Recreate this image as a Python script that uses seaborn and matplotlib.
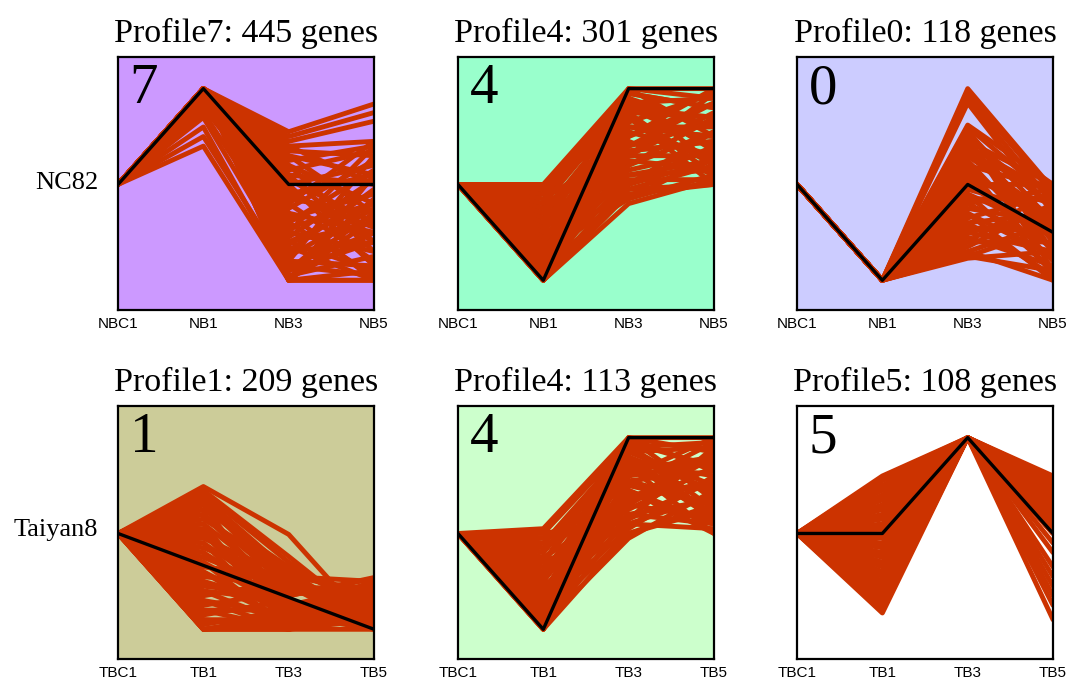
import numpy as np
import pandas as pd
import seaborn as sns
import matplotlib
matplotlib.use("Agg")
import matplotlib.pyplot as plt

sns.set_style("white")
plt.rcParams["text.color"] = "black"
plt.rcParams["xtick.color"] = "black"

row_names = ["NC82", "Taiyan8"]
nb_times = ["NBC1", "NB1", "NB3", "NB5"]
tb_times = ["TBC1", "TB1", "TB3", "TB5"]

profile_ids = [7, 4, 0, 1, 4, 5]
gene_counts = [445, 301, 118, 209, 113, 108]
bg_colors = ["#CC99FF", "#99FFCC", "#CCCCFF", "#CCCC99", "#CCFFCC", "#FFFFFF"]

# model profiles (black line)
model_7 = [0, 1, 0, 0]
model_4a = [0, -1, 1, 1]
model_0 = [0, -1, 0, -0.5]
model_1 = [0, -1 / 3, -2 / 3, -1]
model_4b = [0, -1, 1, 1]
model_5 = [0, 0, 1, 0]

# gene profiles, values at the three later time points (first point is 0)
genes_7 = [
    (1.0, 0.55, 0.84), (1.0, 0.5, 0.75), (1.0, 0.45, 0.66), (0.95, 0.4, 0.45),
    (1.0, 0.35, 0.3), (1.0, 0.3, 0.1), (1.0, 0.25, 0.4), (0.9, 0.2, -0.2),
    (1.0, 0.15, 0.35), (1.0, 0.1, 0.0), (0.85, 0.05, -0.4), (1.0, 0.0, 0.2),
    (1.0, -0.05, -0.6), (1.0, -0.1, 0.1), (0.95, -0.15, -0.3), (1.0, -0.2, -0.8),
    (1.0, -0.25, 0.25), (0.8, -0.3, -0.5), (1.0, -0.35, -0.1), (1.0, -0.4, -0.95),
    (0.9, -0.45, -0.2), (1.0, -0.5, -0.7), (1.0, -0.55, 0.05), (0.75, -0.6, -0.4),
    (1.0, -0.65, -1.0), (1.0, -0.7, -0.6), (1.0, -0.75, -0.25), (0.7, -0.8, -0.85),
    (1.0, -0.85, -0.5), (1.0, -0.9, -0.15), (1.0, -0.95, -0.75), (0.6, -1.0, -1.0),
    (0.4, -1.0, -0.9), (1.0, -1.0, -1.0), (1.0, -1.0, -0.35), (0.5, -0.9, -0.6),
    (1.0, -0.98, -0.5), (1.0, -0.6, -0.9), (1.0, -0.3, -1.0), (1.0, 0.0, -0.85),
    (1.0, 0.2, -0.6), (1.0, 0.4, 0.0), (1.0, -0.8, 0.3), (1.0, -0.5, 0.4),
    (1.0, -0.1, -0.45), (1.0, -0.9, -0.3), (1.0, -0.7, -0.05), (1.0, -0.4, 0.15),
    (1.0, 0.1, -0.7), (1.0, 0.3, -0.3), (1.0, -0.2, 0.45), (0.9, -0.6, -0.2),
    (1.0, -1.0, 0.1), (1.0, -0.85, -0.95),
]
genes_4a = [
    (0.0, 1.0, 1.0), (-0.05, 0.95, 0.8), (-0.1, 0.9, 0.6), (-0.2, 0.85, 0.9),
    (-0.3, 0.8, 0.4), (-0.4, 0.75, 0.7), (-0.5, 0.7, 0.2), (-0.6, 0.65, 0.95),
    (-0.7, 0.6, 0.5), (-0.8, 0.55, 0.3), (-0.9, 0.5, 0.85), (-1.0, 0.45, 0.1),
    (-0.15, 0.4, 0.65), (-0.25, 0.35, 0.45), (-0.35, 0.3, 0.75), (-0.45, 0.25, 0.15),
    (-0.55, 0.2, 0.55), (-0.65, 0.15, 0.35), (-0.75, 0.1, 0.25), (-0.85, 0.05, 0.05),
    (-0.95, 0.0, 0.4), (-1.0, -0.05, 0.2), (-1.0, -0.1, 0.0), (-1.0, -0.2, 0.05),
    (-0.5, -0.15, 0.1), (-1.0, 1.0, 0.9), (-1.0, 0.8, 0.7), (-1.0, 0.6, 0.6),
    (-1.0, 0.3, 0.3), (-0.1, 0.1, 0.15), (0.0, 0.6, 0.5), (-0.05, 0.0, 0.25),
    (-0.5, 1.0, 0.5), (-0.2, 0.9, 0.2), (-0.8, 0.7, 0.0), (-0.3, 0.5, 1.0),
    (-0.6, 0.4, 0.85), (-0.9, 0.2, 0.7), (-0.4, 0.0, 0.55), (-0.7, -0.15, 0.3),
    (-0.1, 0.75, 0.1), (-1.0, 0.9, 0.35), (-0.2, 0.3, 0.95), (-0.6, 0.85, 0.6),
    (-0.85, 0.35, 0.45), (-0.3, -0.05, 0.0), (-0.75, 0.95, 0.8),
]
genes_0 = [
    (-1, 1.0, -0.05), (-1, 0.95, -0.1), (-1, 0.9, -0.2), (-1, 0.85, -0.3),
    (-1, 0.62, 0.0), (-1, 0.6, -0.15), (-1, 0.55, -0.4), (-1, 0.5, -0.25),
    (-1, 0.45, -0.6), (-1, 0.4, -0.1), (-1, 0.35, -0.5), (-1, 0.3, -0.35),
    (-1, 0.25, -0.7), (-1, 0.2, -0.05), (-1, 0.15, -0.45), (-1, 0.1, -0.8),
    (-1, 0.05, -0.2), (-1, 0.0, -0.55), (-1, -0.05, -0.3), (-1, -0.1, -0.9),
    (-1, -0.15, -0.15), (-1, -0.2, -0.65), (-1, -0.25, -0.4), (-1, -0.3, -0.75),
    (-1, -0.35, -0.1), (-1, -0.4, -0.95), (-1, -0.45, -0.5), (-1, -0.5, -0.3),
    (-1, -0.55, -0.85), (-1, -0.6, -0.6), (-1, -0.65, -0.2), (-1, -0.7, -1.0),
    (-1, -0.77, -0.7), (-1, -0.75, -0.45),
    (-1, 0.58, -0.7), (-1, 0.5, -0.9), (-1, 0.4, -0.45), (-1, 0.3, -0.05),
    (-1, 0.2, -0.95), (-1, 0.1, -0.35), (-1, 0.0, 0.0), (-1, -0.1, -0.5),
    (-1, -0.2, -0.05), (-1, -0.3, -1.0), (-1, -0.4, -0.3), (-1, -0.5, -0.7),
    (-1, -0.6, -0.05), (-1, -0.7, -0.4), (-1, -0.75, -0.9), (-1, 0.45, 0.0),
]
genes_1 = [
    (0.49, -0.01, -1.0), (0.45, -0.24, -0.95), (0.42, -0.3, -0.85), (0.38, -0.4, -0.7),
    (0.35, -0.45, -0.5), (0.3, -0.5, -0.9), (0.2, -0.55, -0.6), (0.1, -0.6, -0.75),
    (0.0, -0.65, -0.46), (-0.1, -0.7, -1.0), (-0.2, -0.75, -0.55), (-0.3, -0.8, -0.8),
    (-0.4, -0.85, -0.65), (-0.5, -0.9, -0.5), (-0.6, -0.95, -0.9), (-0.7, -1.0, -0.6),
    (-0.8, -1.0, -1.0), (-0.9, -0.9, -0.7), (-1.0, -1.0, -0.5), (-1.0, -0.95, -0.85),
    (-1.0, -0.85, -1.0), (-1.0, -1.0, -0.75), (-0.95, -0.8, -0.55), (-0.85, -0.7, -0.95),
    (-0.75, -0.6, -0.65), (-0.65, -0.5, -0.8), (-0.55, -0.65, -0.47), (-0.45, -0.55, -1.0),
    (-0.35, -0.45, -0.9), (-0.25, -0.6, -0.7), (-0.15, -0.5, -0.85), (0.25, -0.35, -0.8),
    (0.15, -0.4, -0.95), (0.05, -0.8, -0.5),
    (0.3, -0.9, -0.6), (0.1, -1.0, -0.8), (-0.1, -0.95, -0.5), (-0.3, -1.0, -0.9),
    (-0.5, -0.75, -0.75), (-0.7, -0.85, -0.5), (-0.9, -1.0, -0.65), (-1.0, -0.9, -0.55),
    (-0.6, -0.7, -1.0), (-0.4, -0.95, -0.7), (-0.2, -0.85, -0.95), (0.0, -0.9, -0.85),
    (0.2, -0.7, -1.0), (-0.8, -0.8, -0.8), (0.35, -0.6, -0.55), (-0.05, -0.45, -0.6),
]
genes_4b = [
    (0.05, 1.0, 1.0), (0.0, 0.95, 0.7), (-0.1, 0.9, 0.4), (-0.2, 0.85, 0.9),
    (-0.3, 0.8, 0.2), (-0.4, 0.75, 0.6), (-0.5, 0.7, 0.0), (-0.6, 0.65, 0.8),
    (-0.7, 0.55, 0.3), (-0.8, 0.5, 0.95), (-0.9, 0.45, 0.1), (-1.0, 0.4, 0.5),
    (-0.15, 0.35, 0.85), (-0.25, 0.3, 0.15), (-0.35, 0.25, 0.7), (-0.45, 0.2, 0.35),
    (-0.55, 0.15, 0.9), (-0.65, 0.1, 0.05), (-0.75, 0.05, 0.6), (-0.85, 0.0, 0.25),
    (-0.95, -0.05, 0.45), (-1.0, 0.6, 0.75), (-1.0, 0.2, 0.1), (-0.05, 0.5, 0.3),
    (0.0, 0.15, 0.55), (-0.9, 0.85, 0.5), (-0.65, 1.0, 0.65), (-0.3, 1.0, 0.35),
    (-0.2, 0.95, 0.1), (-0.8, 0.9, 0.25), (-0.5, 0.6, 1.0), (-0.1, 0.7, 0.75),
    (-0.9, 0.3, 0.8), (-0.4, 0.45, 0.0), (-0.7, 0.8, 0.45), (-1.0, 0.75, 0.15),
    (-0.3, 0.1, 0.4), (-0.6, 0.35, 0.55), (-0.95, 1.0, 0.85), (-0.15, 0.55, 0.65),
    (-1.0, 0.0, 0.3), (-0.5, 0.9, 0.95),
]
genes_5 = [
    (0.6, 1, 0.6), (0.55, 1, 0.3), (0.5, 1, 0.5), (0.45, 1, 0.1), (0.4, 1, 0.45),
    (0.35, 1, 0.2), (0.3, 1, 0.55), (0.25, 1, 0.0), (0.2, 1, 0.35), (0.15, 1, 0.15),
    (0.1, 1, 0.4), (0.05, 1, 0.25), (0.0, 1, 0.5), (-0.05, 1, 0.05), (-0.1, 1, 0.3),
    (-0.15, 1, -0.1), (-0.2, 1, 0.45), (-0.25, 1, 0.2), (-0.3, 1, -0.2), (-0.35, 1, 0.35),
    (-0.4, 1, 0.1), (-0.45, 1, -0.35), (-0.5, 1, 0.55), (-0.55, 1, -0.45), (-0.6, 1, 0.25),
    (-0.65, 1, -0.55), (-0.7, 1, 0.0), (-0.75, 1, -0.65), (-0.8, 1, -0.75), (-0.83, 1, -0.9),
    (-0.6, 1, 0.15), (-0.7, 1, 0.4),
    (0.58, 1, 0.15), (0.48, 1, 0.58), (0.38, 1, 0.05), (0.28, 1, 0.4), (0.18, 1, 0.55),
    (0.08, 1, 0.1), (-0.02, 1, 0.35), (-0.12, 1, 0.58), (-0.22, 1, 0.0), (-0.32, 1, 0.5),
    (-0.42, 1, 0.3), (-0.52, 1, 0.05), (-0.62, 1, 0.5),
]

models = [model_7, model_4a, model_0, model_1, model_4b, model_5]
gene_sets = [genes_7, genes_4a, genes_0, genes_1, genes_4b, genes_5]

line_color = "#CC3300"

fig = plt.figure(figsize=(10.73, 6.81), dpi=100)
lefts = [0.110, 0.4268, 0.7428]
bottoms = [0.5448, 0.0323]
w, h = 0.2386, 0.3715

for i in range(6):
    r, c = divmod(i, 3)
    ax = fig.add_axes([lefts[c], bottoms[r], w, h])
    ax.set_facecolor(bg_colors[i])

    rows = []
    for g, vals in enumerate(gene_sets[i]):
        for t, v in enumerate((0.0,) + tuple(vals)):
            rows.append({"gene": g, "t": t, "value": v})
    df = pd.DataFrame(rows)
    sns.lineplot(data=df, x="t", y="value", units="gene", estimator=None,
                 color=line_color, lw=3.5, ax=ax, legend=False)
    sns.lineplot(x=range(4), y=models[i], color="black", lw=2.4, ax=ax)

    ax.set_xlim(0, 3)
    ax.set_ylim(-1.31, 1.33)
    ax.set_xticks(range(4))
    ax.set_xticklabels(nb_times if r == 0 else tb_times,
                       fontsize=11, family="Liberation Sans")
    ax.tick_params(axis="x", length=0, pad=5)
    ax.set_yticks([])
    ax.set_xlabel("")
    ax.set_ylabel("")
    for s in ax.spines.values():
        s.set_linewidth(1.6)
        s.set_color("black")
    ax.set_title(f"Profile{profile_ids[i]}: {gene_counts[i]} genes",
                 fontsize=24.5, family="Liberation Serif", pad=11)
    ax.text(0.045, 0.975, str(profile_ids[i]), transform=ax.transAxes,
            fontsize=41, family="Liberation Serif", va="top", ha="left")

fig.text(98 / 1073, 1 - 183 / 681, row_names[0], fontsize=19,
         family="Liberation Serif", ha="right", va="center")
fig.text(98 / 1073, 1 - 530 / 681, row_names[1], fontsize=19,
         family="Liberation Serif", ha="right", va="center")

fig.savefig("out.png", dpi=100)
